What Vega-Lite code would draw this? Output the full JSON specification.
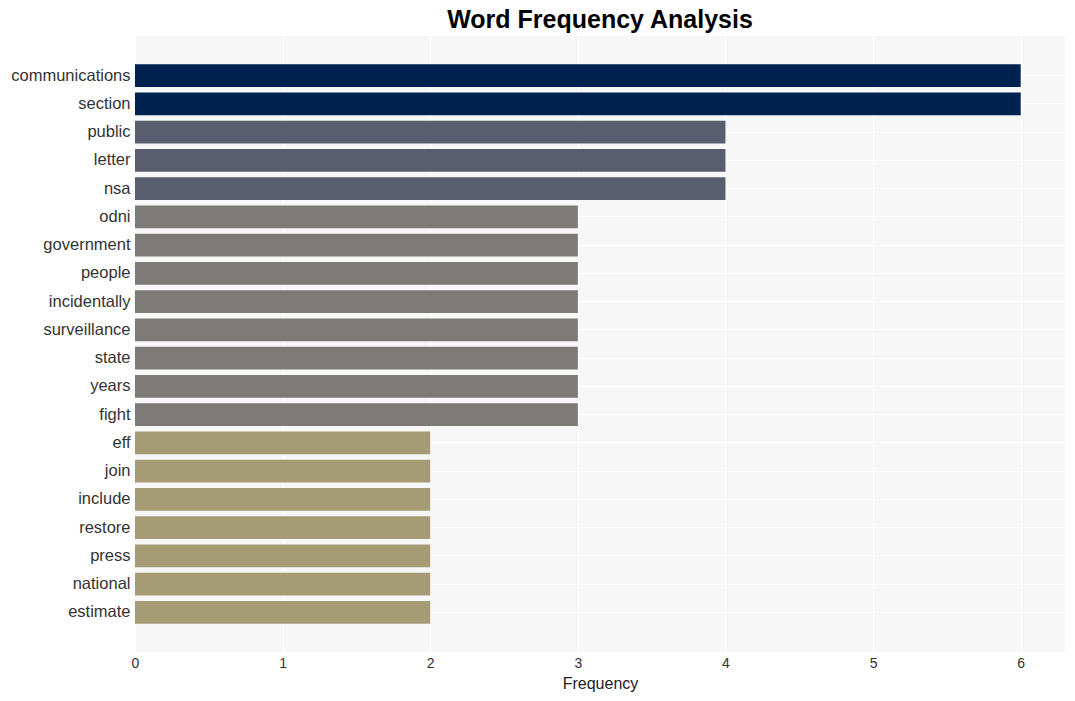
{
  "$schema": "https://vega.github.io/schema/vega-lite/v6.json",
  "width": 930,
  "height": 616,
  "autosize": {"type": "none"},
  "padding": {"left": 135, "top": 36, "right": 10, "bottom": 49},
  "background": "white",
  "title": {
    "text": "Word Frequency Analysis",
    "font": "Liberation Sans",
    "fontSize": 25,
    "fontWeight": "bold",
    "color": "#000000",
    "anchor": "middle",
    "offset": 3
  },
  "config": {
    "view": {"fill": "#f7f7f7", "stroke": null},
    "axis": {"gridColor": "#ffffff", "gridWidth": 1, "domain": false, "ticks": false, "labelFont": "Liberation Sans", "titleFont": "Liberation Sans", "labelColor": "#333333", "titleColor": "#222222"}
  },
  "data": {
    "values": [
      {"word": "communications", "frequency": 6},
      {"word": "section", "frequency": 6},
      {"word": "public", "frequency": 4},
      {"word": "letter", "frequency": 4},
      {"word": "nsa", "frequency": 4},
      {"word": "odni", "frequency": 3},
      {"word": "government", "frequency": 3},
      {"word": "people", "frequency": 3},
      {"word": "incidentally", "frequency": 3},
      {"word": "surveillance", "frequency": 3},
      {"word": "state", "frequency": 3},
      {"word": "years", "frequency": 3},
      {"word": "fight", "frequency": 3},
      {"word": "eff", "frequency": 2},
      {"word": "join", "frequency": 2},
      {"word": "include", "frequency": 2},
      {"word": "restore", "frequency": 2},
      {"word": "press", "frequency": 2},
      {"word": "national", "frequency": 2},
      {"word": "estimate", "frequency": 2}
    ]
  },
  "mark": {"type": "bar"},
  "encoding": {
    "y": {
      "field": "word",
      "type": "nominal",
      "sort": null,
      "scale": {"paddingInner": 0.19, "paddingOuter": 1.0},
      "axis": {"title": null, "labelFontSize": 16.5, "labelPadding": 5, "grid": true, "bandPosition": 0.5}
    },
    "x": {
      "field": "frequency",
      "type": "quantitative",
      "scale": {"domain": [0, 6.3], "nice": false, "zero": true},
      "axis": {"title": "Frequency", "values": [0, 1, 2, 3, 4, 5, 6], "labelFontSize": 14, "labelFlush": false, "titleFontSize": 16, "titleFontWeight": "normal", "labelPadding": 4, "titlePadding": 5, "grid": true, "format": "d"}
    },
    "color": {
      "field": "frequency",
      "type": "ordinal",
      "scale": {"domain": [6, 4, 3, 2], "range": ["#002251", "#5a5d6e", "#7b7a76", "#a59c76"]},
      "legend": null
    }
  }
}
